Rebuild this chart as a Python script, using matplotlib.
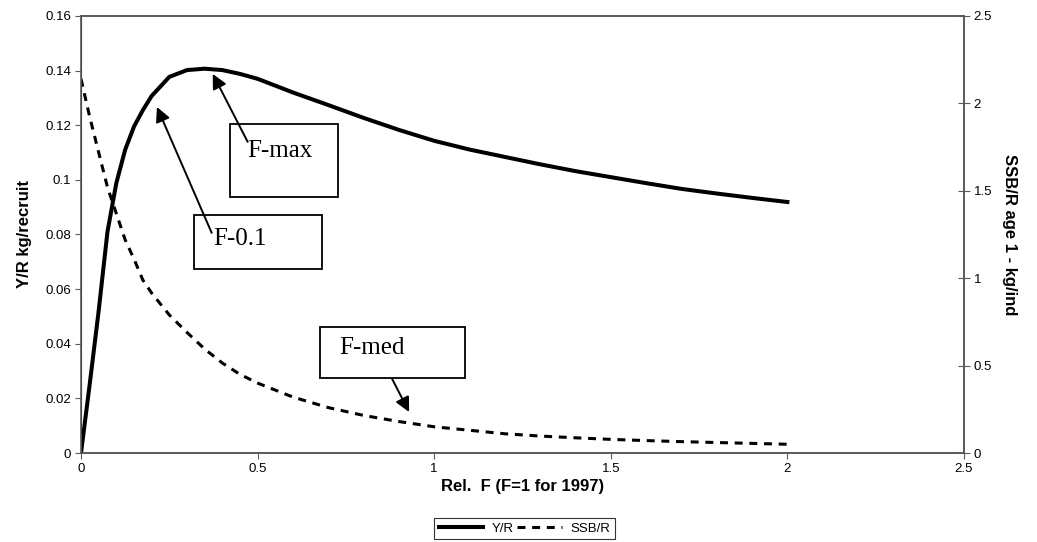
import numpy as np
import matplotlib
matplotlib.use("Agg")
import matplotlib.pyplot as plt
from matplotlib.patches import Rectangle
from matplotlib.ticker import FuncFormatter, MultipleLocator

# %% data
rel_f = [0, 0.025, 0.05, 0.075, 0.1, 0.125, 0.15, 0.175, 0.2, 0.25, 0.3, 0.35, 0.4,
         0.45, 0.5, 0.6, 0.7, 0.8, 0.9, 1.0, 1.1, 1.2, 1.3, 1.4, 1.5, 1.6, 1.7, 1.8,
         1.9, 2.0]
yield_per_recruit = [0, 0.0255, 0.052, 0.081, 0.0988, 0.111, 0.1195, 0.1255, 0.1307,
                     0.1377, 0.1402, 0.1407, 0.1402, 0.1388, 0.137, 0.132, 0.1274,
                     0.1227, 0.1183, 0.1143, 0.1111, 0.1084, 0.1057, 0.1032, 0.1010,
                     0.0988, 0.0967, 0.0950, 0.0934, 0.0919]
ssb_per_recruit = [2.14, 1.92, 1.72, 1.52, 1.37, 1.22, 1.11, 0.99, 0.915, 0.79, 0.69,
                   0.595, 0.515, 0.45, 0.40, 0.32, 0.26, 0.215, 0.18, 0.15, 0.13, 0.11,
                   0.097, 0.087, 0.078, 0.071, 0.065, 0.060, 0.055, 0.05]

ref_labels = ["F-max", "F-0.1", "F-med"]

plt.rcParams["font.family"] = ["Liberation Sans", "DejaVu Sans"]

# %% figure
fig = plt.figure(figsize=(10.37, 5.42), dpi=100)
ax = fig.add_axes([0.0781, 0.1642, 0.9296 - 0.0781, 0.9705 - 0.1642])
ax2 = ax.twinx()

fmt = FuncFormatter(lambda v, p: "%g" % round(v, 3))

ax.set_xlim(0, 2.5)
ax.set_ylim(0, 0.16)
ax2.set_ylim(0, 2.5)
ax.xaxis.set_major_locator(MultipleLocator(0.5))
ax.yaxis.set_major_locator(MultipleLocator(0.02))
ax2.yaxis.set_major_locator(MultipleLocator(0.5))
ax.xaxis.set_major_formatter(fmt)
ax.yaxis.set_major_formatter(fmt)
ax2.yaxis.set_major_formatter(fmt)

for a in (ax, ax2):
    for s in a.spines.values():
        s.set_color("#5a5a5a")
        s.set_linewidth(1.2)
ax.spines["left"].set_color("black")
ax.spines["left"].set_linewidth(0.8)

ax.tick_params(axis="both", labelsize=9.5, length=4, width=0.8, color="#5a5a5a")
ax.tick_params(axis="x", direction="out", pad=3)
ax.tick_params(axis="y", pad=3)
ax2.tick_params(axis="y", labelsize=9.5, direction="inout", length=8, width=0.8,
                color="#5a5a5a", pad=3)

ax.set_xlabel("Rel.  F (F=1 for 1997)", fontsize=12, fontweight="bold", labelpad=3)
ax.set_ylabel("Y/R kg/recruit", fontsize=12, fontweight="bold", labelpad=10)
ax2.set_ylabel("SSB/R age 1 - kg/ind", fontsize=12, fontweight="bold",
               rotation=-90, labelpad=18)

# %% lines
l2, = ax2.plot(rel_f, ssb_per_recruit, color="black", lw=2.2,
               linestyle=(0, (2.6, 2.2)), label="SSB/R")
l1, = ax2.plot(rel_f, np.array(yield_per_recruit) * 2.5 / 0.16, color="black",
               lw=2.9, label="Y/R", solid_joinstyle="round")

# %% annotation boxes (positions in left-axis data units)
boxes = [(0.421, 0.0937, 0.308, 0.0268), (0.319, 0.0674, 0.362, 0.0197),
         (0.678, 0.0275, 0.410, 0.0186)]
text_pos = [(0.472, 0.1105), (0.373, 0.0782), (0.732, 0.0384)]
arrow_from = [(0.472, 0.1139), (0.370, 0.0806), (0.881, 0.0271)]
arrow_to = [(0.373, 0.1388), (0.215, 0.1267), (0.929, 0.0150)]

for lab, b, tp, af, at in zip(ref_labels, boxes, text_pos, arrow_from, arrow_to):
    ax2.add_patch(Rectangle((b[0], b[1]), b[2], b[3], transform=ax.transData,
                            facecolor="white", edgecolor="black", lw=1.3, zorder=3))
    ax2.text(tp[0], tp[1], lab, transform=ax.transData, fontsize=18,
             family=["Liberation Serif", "DejaVu Serif"], va="center", ha="left",
             zorder=4)
    ax2.annotate("", xy=at, xycoords=ax.transData, xytext=af,
                 textcoords=ax.transData,
                 arrowprops=dict(arrowstyle="-|>", color="black", lw=1.4,
                                 mutation_scale=22, shrinkA=0, shrinkB=0),
                 zorder=5)

# %% legend below the chart
leg = fig.legend(handles=[l1, l2], loc="upper left",
                 bbox_to_anchor=(434 / 1037, 1 - 518 / 542), ncol=2,
                 fontsize=9.5, frameon=True, fancybox=False, edgecolor="black",
                 handlelength=3.4, columnspacing=0.3, handletextpad=0.6,
                 borderpad=0.35, borderaxespad=0)
leg.get_frame().set_linewidth(0.8)

fig.savefig("out.png", dpi=100)
